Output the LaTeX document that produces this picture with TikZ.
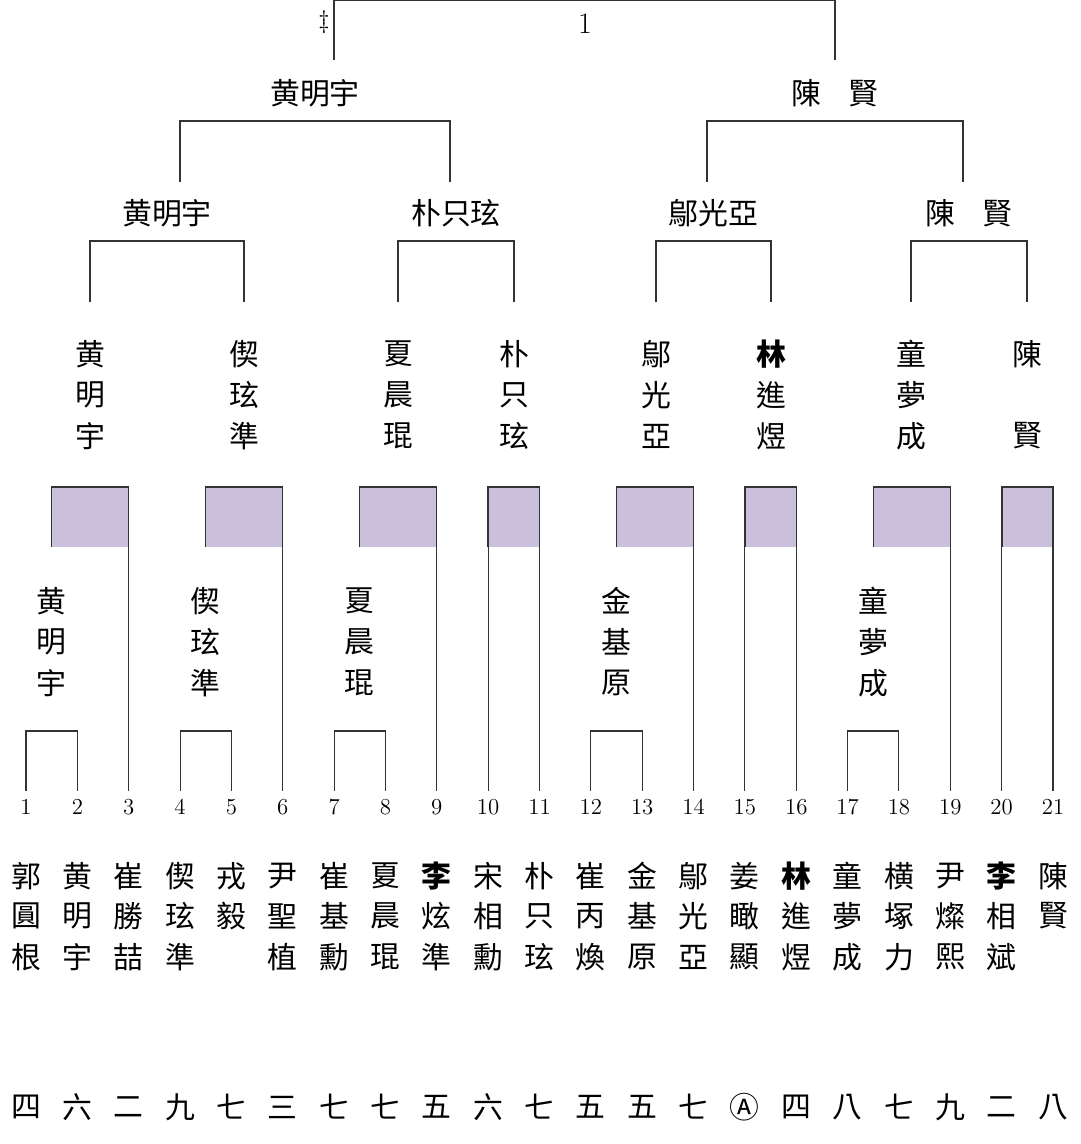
\documentclass[tikz,border=0pt]{standalone}
\usepackage{fontspec}
\usepackage{amssymb}
\newfontfamily\cjk{Noto Sans CJK TC}
\usetikzlibrary{positioning,calc}
\definecolor{boxpurple}{RGB}{203,192,220}
\tikzset{
  pname/.style={font=\cjk\fontsize{17}{17}\selectfont, inner sep=0pt},
  seed/.style={font=\fontsize{13}{13}\selectfont, inner sep=0pt},
  line/.style={draw=black!80, line width=0.6pt},
}
\begin{document}
\begin{tikzpicture}[x=0.02cm, y=-0.02cm]
\useasboundingbox (0,0) rectangle (1080,1144);
% column coordinates
\foreach \i in {1,...,21} {
  \pgfmathsetmacro\cx{26+(\i-1)*51.35}
  \coordinate (c\i) at (\cx,0);
  \node[seed] (n\i) at (\cx,807) {\i};
}
% entrants
\foreach \i/\a/\b/\c in {1/郭/圓/根,2/黄/明/宇,3/崔/勝/喆,4/偰/玹/準,5/戎/毅/{},6/尹/聖/植,
  7/崔/基/勳,8/夏/晨/琨,9/{\bfseries 李}/炫/準,10/宋/相/勳,11/朴/只/玹,12/崔/丙/煥,
  13/金/基/原,14/鄔/光/亞,15/姜/瞰/顯,16/{\bfseries 林}/進/煜,17/童/夢/成,18/横/塚/力,
  19/尹/燦/熙,20/{\bfseries 李}/相/斌,21/陳/賢/{}} {
  \node[pname] (p\i a) at (c\i |- 0,876) {\a};
  \node[pname] (p\i b) at (c\i |- 0,916) {\b};
  \node[pname] (p\i c) at (c\i |- 0,957) {\c};
}
\foreach \i/\t in {1/四,2/六,3/二,4/九,5/七,6/三,7/七,8/七,9/五,10/六,11/七,12/五,13/五,
  14/七,15/Ⓐ,16/四,17/八,18/七,19/九,20/二,21/八}
  \node[pname] (r\i) at (c\i |- 0,1107) {\t};
% round 1
\foreach \i/\j/\a/\b/\c in {1/2/黄/明/宇,4/5/偰/玹/準,7/8/夏/晨/琨,12/13/金/基/原,17/18/童/夢/成} {
  \draw[line] (c\i |- 0,791) -- (c\i |- 0,731) -- (c\j |- 0,731) -- (c\j |- 0,791);
  \coordinate (w\i) at ($(c\i)!0.5!(c\j)$);
  \node[pname] at (w\i |- 0,601) {\a};
  \node[pname] at (w\i |- 0,642) {\b};
  \node[pname] at (w\i |- 0,683) {\c};
}
% round 2 boxes
\foreach \l/\r in {51.7/3,205.7/6,359.8/9,488/11,616.5/14,745/16,873.4/19,1002/21} {
  \fill[boxpurple] (\l,487) rectangle (c\r |- 0,547);
  \draw[line] (\l,547) -- (\l,487) -- (c\r |- 0,487) -- (c\r |- 0,791);
}
\foreach \k in {10,15,20}
  \draw[line] (c\k |- 0,487) -- (c\k |- 0,791);
% round 2 winners
\foreach \x/\a/\b/\c in {90/黄/明/宇,244/偰/玹/準,398/夏/晨/琨,514/朴/只/玹,656/鄔/光/亞,
  771/{\bfseries 林}/進/煜,911/童/夢/成,1027/陳/{}/賢} {
  \node[pname] at (\x,354) {\a};
  \node[pname] at (\x,395) {\b};
  \node[pname] at (\x,436) {\c};
}
% round 3
\foreach \l/\r/\t in {90/244/黄明宇,398/514/朴只玹,656/771/鄔光亞,911/1027/陳\hspace{0.9em}賢} {
  \draw[line] (\l,302) -- (\l,241) -- (\r,241) -- (\r,302);
  \node[pname] at ({(\l+\r)/2},213) {\t};
}
% semifinal
\foreach \l/\r/\t in {180/450/黄明宇,707/963/陳\hspace{0.9em}賢} {
  \draw[line] (\l,182) -- (\l,121) -- (\r,121) -- (\r,182);
  \node[pname] at ({(\l+\r)/2},93) {\t};
}
% final
\draw[line] (334,60) -- (334,0.5) -- (835,0.5) -- (835,60);
\node[seed, font=\fontsize{17}{17}\selectfont] (champ) at (585,24) {1};
\node[seed, font=\fontsize{14}{14}\selectfont] (mark) at (324,22) {$\ddagger$};
\end{tikzpicture}
\end{document}
